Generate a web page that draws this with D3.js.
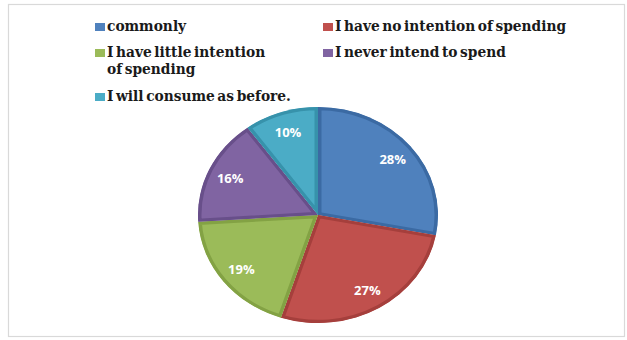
<!DOCTYPE html>
<html>
<head>
<meta charset="utf-8">
<script src="https://cdn.jsdelivr.net/npm/d3@7"></script>
<style>
  html, body { margin: 0; padding: 0; background: #fff; }
  svg { display: block; }
</style>
</head>
<body>
<svg id="chart" width="627" height="340"></svg>
<script>
// Survey answers and their shares (percent)
const categories = [
  "commonly",
  "I have no intention of spending",
  "I have little intention of spending",
  "I never intend to spend",
  "I will consume as before."
];
const legendLines = [
  ["commonly"],
  ["I have no intention of spending"],
  ["I have little intention", "of spending"],
  ["I never intend to spend"],
  ["I will consume as before."]
];
const values = [28, 27, 19, 16, 10];
const colors = ["#4f81bd", "#c0504d", "#9bbb59", "#8064a2", "#4bacc6"];
const rims   = ["#3b6aa3", "#a53f3c", "#83a244", "#684f8a", "#3792ab"];

const svg = d3.select("#chart");

// outer frame
svg.append("rect")
  .attr("x", 8.5).attr("y", 4.5)
  .attr("width", 616).attr("height", 332)
  .attr("fill", "#fff")
  .attr("stroke", "#d9d9d9")
  .attr("stroke-width", 1.2);

// legend, two columns
const legendPos = [
  { x: 95,  y: 31 },
  { x: 323, y: 31 },
  { x: 95,  y: 57 },
  { x: 323, y: 57 },
  { x: 95,  y: 101 }
];
const legend = svg.append("g").attr("class", "legend");
legendLines.forEach((lines, i) => {
  const p = legendPos[i];
  const g = legend.append("g").attr("transform", `translate(${p.x},${p.y})`);
  g.append("rect")
    .attr("x", 0).attr("y", -8)
    .attr("width", 10).attr("height", 8)
    .attr("fill", colors[i]);
  const t = g.append("text")
    .attr("x", 12).attr("y", 0)
    .attr("font-family", "'DejaVu Serif Condensed', 'DejaVu Serif', serif")
    .attr("font-stretch", "condensed")
    .attr("font-weight", "bold")
    .attr("font-size", 15.3)
    .attr("word-spacing", -2.2)
    .attr("fill", "#1a1a1a");
  lines.forEach((ln, j) => {
    t.append("tspan").attr("x", 12).attr("dy", j === 0 ? 0 : 16.5).text(ln);
  });
});

// pie, slightly flattened vertically
const cx = 318, cy = 215, R = 120, flat = 0.9;
const pie = d3.pie().sort(null).value(d => d);
const arcs = pie(values);
const arc = d3.arc().innerRadius(0).outerRadius(R);
const labelArc = d3.arc().innerRadius(97).outerRadius(97);

const defs = svg.append("defs");
const pieG = svg.append("g")
  .attr("transform", `translate(${cx},${cy}) scale(1,${flat})`);

arcs.forEach((a, i) => {
  const id = "slice-clip-" + i;
  defs.append("clipPath").attr("id", id)
    .append("path").attr("d", arc(a));
  const g = pieG.append("g").attr("clip-path", `url(#${id})`);
  g.append("path")
    .attr("d", arc(a))
    .attr("fill", colors[i])
    .attr("stroke", rims[i])
    .attr("stroke-width", 7)
    .attr("stroke-linejoin", "round");
});

// percentage labels
const labelG = svg.append("g");
arcs.forEach((a, i) => {
  const [lx, ly] = labelArc.centroid(a);
  labelG.append("text")
    .attr("x", cx + lx)
    .attr("y", cy + ly * flat)
    .attr("text-anchor", "middle")
    .attr("dominant-baseline", "central")
    .attr("font-family", "'Open Sans', 'Liberation Sans', sans-serif")
    .attr("font-weight", "bold")
    .attr("font-size", 13)
    .attr("fill", "#fff")
    .text(values[i] + "%");
});
</script>
</body>
</html>
